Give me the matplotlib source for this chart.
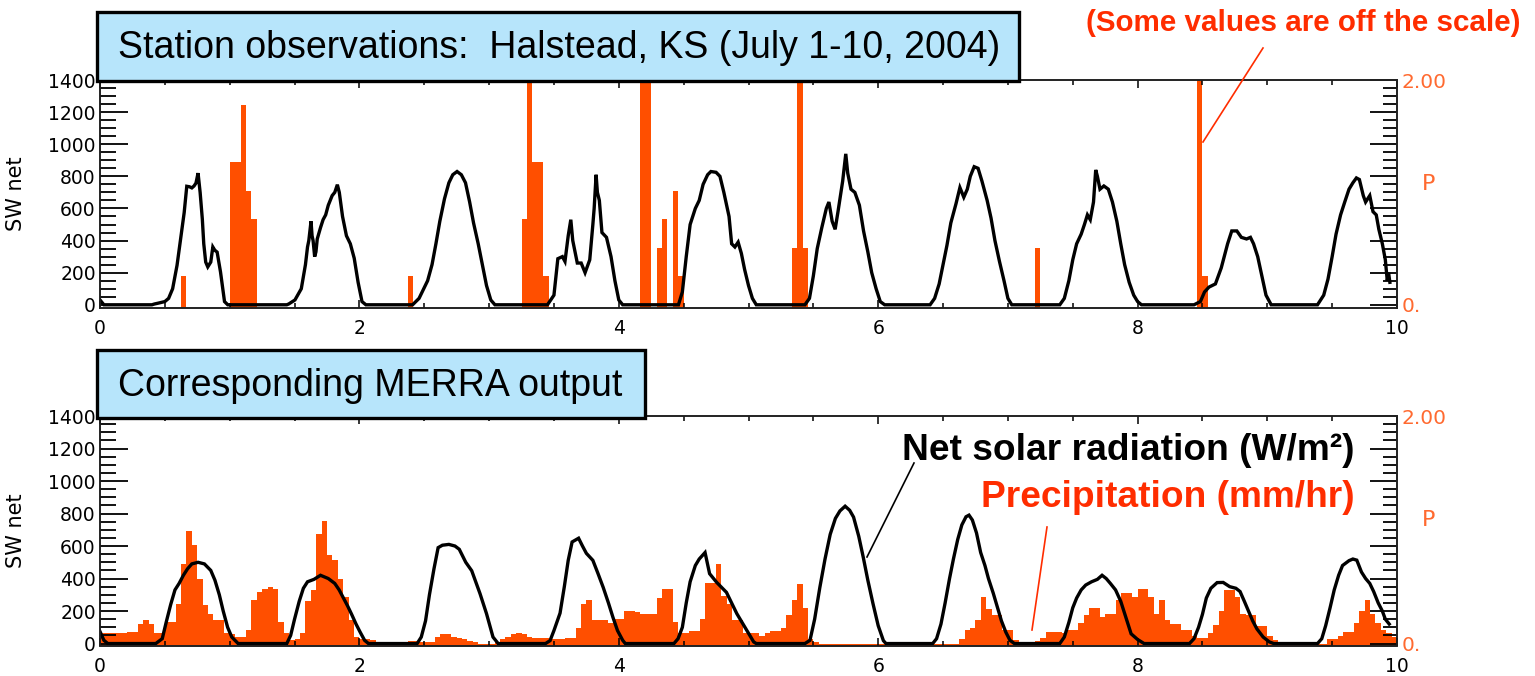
import numpy as np
import matplotlib
matplotlib.use("Agg")
import matplotlib.pyplot as plt
from matplotlib.patches import Rectangle
from matplotlib.lines import Line2D
from matplotlib.ticker import MultipleLocator, FixedLocator, FuncFormatter

# ---------------------------------------------------------------------------
# Station observations, Halstead KS, July 1-10 2004 (time in days)
# ---------------------------------------------------------------------------
station_t = [
    0.00, 0.03,
    0.40, 0.42, 0.448, 0.50, 0.529, 0.56, 0.594, 0.627, 0.649, 0.669, 0.69, 0.708, 0.725, 0.74,
    0.756, 0.772, 0.789, 0.80, 0.815, 0.831, 0.854, 0.87, 0.885, 0.903, 0.929, 0.96, 0.985,
    1.44, 1.455, 1.503, 1.552, 1.584, 1.60, 1.61, 1.627, 1.635, 1.643, 1.655, 1.665, 1.675,
    1.70, 1.72, 1.74, 1.76, 1.79, 1.81, 1.83, 1.845, 1.87, 1.90, 1.93, 1.96, 1.99, 2.02, 2.05,
    2.41, 2.46, 2.526, 2.56, 2.59, 2.62, 2.656, 2.69, 2.72, 2.753, 2.786, 2.818, 2.85, 2.88,
    2.916, 2.95, 2.98, 3.013, 3.045,
    3.45, 3.50, 3.53, 3.565, 3.585, 3.61, 3.63, 3.645, 3.68, 3.71, 3.74, 3.776, 3.80, 3.81,
    3.825, 3.835, 3.85, 3.87, 3.905, 3.94, 3.97, 4.00, 4.03,
    4.46, 4.49, 4.52, 4.55, 4.59, 4.62, 4.65, 4.685, 4.71, 4.75, 4.78, 4.81, 4.85, 4.87,
    4.895, 4.92, 4.945, 4.97, 5.00, 5.03, 5.06,
    5.435, 5.47, 5.50, 5.53, 5.565, 5.60, 5.62, 5.645, 5.668, 5.69, 5.726, 5.75, 5.765, 5.79,
    5.82, 5.855, 5.887, 5.92, 5.95, 5.984, 6.016, 6.05,
    6.40, 6.435, 6.47, 6.50, 6.53, 6.56, 6.60, 6.63, 6.66, 6.687, 6.71, 6.74, 6.77, 6.80,
    6.84, 6.87, 6.90, 6.935, 6.97, 7.00, 7.03,
    7.40, 7.435, 7.47, 7.50, 7.53, 7.565, 7.59, 7.613, 7.635, 7.66, 7.677, 7.69, 7.71, 7.74,
    7.774, 7.806, 7.84, 7.87, 7.90, 7.935, 7.97, 8.00, 8.03,
    8.435, 8.484, 8.516, 8.55, 8.60, 8.645, 8.694, 8.726, 8.765, 8.80, 8.84, 8.87, 8.894,
    8.926, 8.958, 8.99, 9.03,
    9.387, 9.435, 9.468, 9.50, 9.53, 9.565, 9.597, 9.63, 9.66, 9.687, 9.71, 9.74, 9.758,
    9.79, 9.815, 9.84, 9.86, 9.887, 9.91, 9.925, 9.935, 9.945,
]
station_sw = [
    30, 0,
    0, 5, 10, 20, 40, 100, 246, 440, 574, 738, 735, 728, 740, 758,
    820, 700, 533, 380, 266, 236, 266, 360, 340, 328, 205, 20, 0,
    0, 5, 30, 100, 250, 360, 400, 520, 430, 400, 300, 330, 410,
    480, 530, 560, 620, 680, 700, 748, 700, 550, 430, 380, 290, 140, 20, 0,
    0, 40, 150, 250, 380, 520, 660, 760, 810, 830, 810, 760, 640, 510,
    380, 240, 120, 30, 0,
    0, 60, 287, 300, 270, 430, 530, 400, 260, 260, 200, 280, 500, 600,
    810, 700, 650, 450, 420, 300, 150, 30, 0,
    0, 80, 300, 500, 600, 650, 750, 810, 830, 825, 800, 700, 550, 380,
    360, 390, 320, 220, 120, 40, 0,
    0, 40, 180, 350, 480, 600, 640, 520, 470, 580, 770, 940, 820, 720,
    700, 620, 460, 330, 200, 100, 20, 0,
    0, 40, 130, 250, 370, 510, 630, 730, 670, 720, 800, 860, 850, 770,
    650, 540, 400, 270, 150, 40, 0,
    0, 40, 150, 280, 380, 440, 500, 560, 530, 640, 840, 800, 720, 740,
    720, 640, 520, 380, 250, 140, 60, 20, 0,
    0, 20, 80, 110, 130, 230, 380, 460, 460, 420, 410, 420, 380,
    300, 180, 60, 0,
    0, 60, 160, 300, 440, 560, 640, 720, 760, 790, 780, 680, 640,
    680, 580, 560, 470, 380, 280, 150, 200, 140,
]

# Rain-gauge totals (mm/hr) for the hours with rain; hour index from July 1 00:00
station_rain_hour = [15, 24, 25, 26, 27, 28, 57, 78, 79, 80, 81, 82,
                     100, 101, 103, 104, 106, 107, 128, 129, 130, 173, 203, 204]
station_rain_mm = [0.254, 1.27, 1.27, 1.778, 1.016, 0.762, 0.254, 0.762, 2.54, 1.27, 1.27, 0.254,
                   2.54, 2.54, 0.508, 0.762, 1.016, 0.254, 0.508, 2.54, 0.508, 0.508, 2.54, 0.254]

# ---------------------------------------------------------------------------
# Corresponding MERRA output
# ---------------------------------------------------------------------------
merra_t = [
    0.00, 0.03, 0.06,
    0.43, 0.48, 0.51, 0.545, 0.578, 0.61, 0.643, 0.675, 0.708, 0.756, 0.805, 0.854, 0.886,
    0.92, 0.95, 0.984, 1.016, 1.065,
    1.44, 1.47, 1.50, 1.536, 1.568, 1.60, 1.65, 1.70, 1.73, 1.76, 1.81, 1.844, 1.877, 1.91,
    1.94, 1.974, 2.006, 2.04, 2.07,
    2.445, 2.477, 2.51, 2.54, 2.575, 2.607, 2.64, 2.69, 2.737, 2.77, 2.82, 2.866, 2.93,
    2.98, 3.03, 3.07,
    3.435, 3.47, 3.50, 3.547, 3.58, 3.61, 3.64, 3.69, 3.72, 3.75, 3.80, 3.84, 3.88, 3.92,
    3.955, 3.99, 4.03, 4.05,
    4.425, 4.457, 4.49, 4.52, 4.55, 4.59, 4.62, 4.665, 4.70, 4.755, 4.83, 4.91, 4.985, 5.04, 5.06,
    5.435, 5.474, 5.51, 5.55, 5.59, 5.63, 5.67, 5.705, 5.745, 5.78, 5.81, 5.85, 5.885, 5.92,
    5.96, 6.00, 6.04, 6.06,
    6.42, 6.45, 6.484, 6.516, 6.55, 6.58, 6.613, 6.645, 6.677, 6.70, 6.726, 6.758, 6.79,
    6.823, 6.85, 6.887, 6.92, 6.95, 6.984, 7.016, 7.05,
    7.40, 7.435, 7.47, 7.50, 7.53, 7.565, 7.60, 7.645, 7.69, 7.726, 7.758, 7.79, 7.83,
    7.87, 7.91, 7.95, 8.00, 8.05,
    8.40, 8.435, 8.47, 8.50, 8.53, 8.565, 8.613, 8.66, 8.71, 8.758, 8.79, 8.823, 8.855,
    8.887, 8.92, 8.968, 9.016, 9.05,
    9.387, 9.42, 9.45, 9.484, 9.516, 9.55, 9.58, 9.63, 9.66, 9.69, 9.726, 9.758, 9.79,
    9.82, 9.855, 9.887, 9.91, 9.94,
]
merra_sw = [
    74, 20, 0,
    0, 30, 130, 240, 330, 370, 420, 460, 490, 500, 490, 450, 390,
    300, 200, 100, 40, 0,
    0, 50, 150, 260, 340, 380, 395, 420, 410, 400, 370, 330, 280, 230,
    180, 120, 70, 20, 0,
    0, 40, 140, 300, 460, 590, 605, 610, 600, 580, 500, 448, 307,
    184, 40, 0,
    0, 18, 80, 187, 350, 512, 625, 648, 600, 555, 512, 430, 345, 250,
    161, 80, 20, 0,
    0, 30, 100, 250, 380, 480, 520, 560, 430, 376, 315, 184, 83, 10, 0,
    0, 20, 150, 345, 520, 672, 770, 816, 845, 820, 778, 660, 530, 390,
    245, 110, 18, 0,
    0, 30, 120, 250, 400, 520, 640, 730, 780, 790, 760, 680, 560,
    480, 400, 310, 220, 140, 70, 20, 0,
    0, 40, 130, 220, 280, 330, 360, 380, 395, 420, 400, 370, 330,
    260, 160, 60, 25, 0,
    0, 30, 100, 180, 280, 340, 375, 376, 350, 340, 320, 260, 200,
    140, 90, 40, 10, 0,
    0, 30, 110, 220, 330, 420, 480, 510, 520, 513, 440, 400, 370,
    320, 250, 200, 150, 120,
]

# Hourly MERRA precipitation (mm/hr), one row per half day
merra_rain_mm = [
    0.09, 0.09, 0.09, 0.09, 0.09, 0.10, 0.10, 0.17, 0.21, 0.17, 0.09, 0.09,
    0.19, 0.19, 0.35, 0.70, 0.99, 0.87, 0.57, 0.34, 0.26, 0.21, 0.21, 0.09,
    0.08, 0.06, 0.06, 0.12, 0.38, 0.45, 0.48, 0.50, 0.48, 0.19, 0.09, 0.03,
    0.04, 0.09, 0.37, 0.47, 0.96, 1.08, 0.78, 0.73, 0.57, 0.41, 0.21, 0.06,
    0.04, 0.04, 0.03, 0.00, 0.00, 0.00, 0.00, 0.00, 0.00, 0.02, 0.02, 0.01,
    0.01, 0.01, 0.06, 0.08, 0.08, 0.06, 0.05, 0.04, 0.02, 0.01, 0.00, 0.00,
    0.00, 0.01, 0.04, 0.06, 0.08, 0.09, 0.08, 0.06, 0.05, 0.05, 0.05, 0.04,
    0.04, 0.04, 0.05, 0.05, 0.14, 0.35, 0.38, 0.21, 0.21, 0.21, 0.18, 0.22,
    0.22, 0.29, 0.29, 0.28, 0.26, 0.26, 0.26, 0.40, 0.48, 0.48, 0.19, 0.09,
    0.09, 0.11, 0.11, 0.22, 0.53, 0.53, 0.70, 0.42, 0.35, 0.21, 0.21, 0.09,
    0.09, 0.09, 0.07, 0.09, 0.11, 0.11, 0.14, 0.25, 0.38, 0.52, 0.31, 0.04,
    0.01, 0.00, 0.00, 0.00, 0.00, 0.00, 0.00, 0.00, 0.00, 0.00, 0.00, 0.00,
    0.00, 0.00, 0.00, 0.00, 0.00, 0.00, 0.00, 0.00, 0.00, 0.00, 0.00, 0.00,
    0.00, 0.00, 0.00, 0.04, 0.12, 0.14, 0.21, 0.41, 0.30, 0.25, 0.25, 0.12,
    0.12, 0.03, 0.01, 0.01, 0.01, 0.02, 0.05, 0.10, 0.10, 0.10, 0.09, 0.12,
    0.12, 0.18, 0.25, 0.31, 0.31, 0.23, 0.26, 0.26, 0.38, 0.44, 0.44, 0.41,
    0.48, 0.48, 0.41, 0.26, 0.38, 0.21, 0.17, 0.17, 0.12, 0.12, 0.07, 0.05,
    0.05, 0.09, 0.16, 0.29, 0.47, 0.47, 0.41, 0.26, 0.25, 0.25, 0.15, 0.15,
    0.07, 0.03, 0.00, 0.00, 0.00, 0.00, 0.00, 0.00, 0.00, 0.00, 0.00, 0.04,
    0.04, 0.07, 0.10, 0.10, 0.18, 0.29, 0.38, 0.26, 0.18, 0.12, 0.09, 0.06,
]
merra_rain_hour = list(range(len(merra_rain_mm)))

# ---------------------------------------------------------------------------
W, H, DPI = 1535, 676, 100
SW_TOP = 1400.0
P_TOP = 2.0
MM_PER_W = P_TOP / SW_TOP          # right scale spans the same height as the left one
ORANGE = "#FF4F00"
ORANGE_LABEL = "#FF6A30"
RED = "#FF2D00"
BOX_BLUE = "#B7E5FB"

plt.rcParams["font.family"] = ["DejaVu Sans"]

fig = plt.figure(figsize=(W / DPI, H / DPI), dpi=DPI)


def px_axes(left, top, right, bottom):
    return [left / W, 1 - bottom / H, (right - left) / W, (bottom - top) / H]


def fx(x):
    return x / W


def fy(y):
    return 1 - y / H


def draw_panel(rect, t, sw, rain_hour, rain_mm, sw_lo):
    ax = fig.add_axes(rect)
    axp = ax.twinx()
    ax.set_zorder(axp.get_zorder() + 1)
    ax.patch.set_visible(False)

    p_lo = sw_lo * MM_PER_W
    hours = np.asarray(rain_hour, dtype=float) / 24.0
    mm = np.asarray(rain_mm, dtype=float)
    axp.bar(hours, mm - p_lo, bottom=p_lo, width=1 / 24.0, align="edge",
            color=ORANGE, linewidth=0)
    ax.plot(t, sw, color="black", lw=2.4, solid_joinstyle="miter")

    ax.set_xlim(0, 10)
    ax.set_ylim(sw_lo, SW_TOP)
    axp.set_ylim(p_lo, P_TOP)

    ax.xaxis.set_major_locator(MultipleLocator(2))
    ax.xaxis.set_minor_locator(MultipleLocator(0.5))
    ax.yaxis.set_major_locator(MultipleLocator(200))
    ax.yaxis.set_minor_locator(MultipleLocator(50))

    ax.tick_params(axis="x", which="both", direction="in", top=True, bottom=True,
                   labelsize=13.5, pad=8, width=1.1)
    ax.tick_params(axis="x", which="major", length=6)
    ax.tick_params(axis="x", which="minor", length=3.5)
    ax.tick_params(axis="y", which="both", direction="in", left=True, right=False,
                   labelsize=13.5, pad=3, width=1.3)
    ax.tick_params(axis="y", which="major", length=20)
    ax.tick_params(axis="y", which="minor", length=11.5)

    axp.yaxis.set_major_locator(FixedLocator(np.arange(0, SW_TOP + 1, 200) * MM_PER_W))
    axp.yaxis.set_minor_locator(FixedLocator(np.arange(0, SW_TOP + 1, 50) * MM_PER_W))
    axp.yaxis.set_major_formatter(FuncFormatter(
        lambda v, pos: "0." if abs(v) < 1e-9 else ("2.00" if abs(v - P_TOP) < 1e-9 else "")))
    axp.tick_params(axis="y", which="both", direction="in", right=True, left=False,
                    labelsize=14.5, pad=3, width=1.3, labelcolor=ORANGE_LABEL)
    axp.tick_params(axis="y", which="major", length=19.5)
    axp.tick_params(axis="y", which="minor", length=10)

    for a in (ax, axp):
        for s in a.spines.values():
            s.set_linewidth(1.2)
            s.set_color("#222222")

    ax.set_ylabel("SW net", fontsize=15)
    ax.yaxis.set_label_coords(-0.057, 0.5)
    axp.set_ylabel("P", fontsize=16, color=ORANGE_LABEL, rotation=0, va="center", ha="center")
    axp.yaxis.set_label_coords(1.024, 0.545)
    return ax, axp


draw_panel(px_axes(100, 80, 1397, 308), station_t, station_sw,
           station_rain_hour, station_rain_mm, -20)
draw_panel(px_axes(100, 416, 1397, 645.5), merra_t, merra_sw,
           merra_rain_hour, merra_rain_mm, -12)


# Panel title boxes
def title_box(left, top, right, bottom, text, baseline):
    fig.add_artist(Rectangle((fx(left), fy(bottom)), fx(right) - fx(left), fy(top) - fy(bottom),
                             transform=fig.transFigure, facecolor=BOX_BLUE, edgecolor="black",
                             linewidth=2.4, zorder=5))
    fig.text(fx(118), fy(baseline), text, fontsize=27, family="Liberation Sans",
             ha="left", va="baseline", zorder=6)


title_box(97, 12, 1019, 81, "Station observations:  Halstead, KS (July 1-10, 2004)", 58)
title_box(97, 350, 645, 418, "Corresponding MERRA output", 396)

# Annotations and their leader lines
fig.text(fx(1520), fy(31), "(Some values are off the scale)", fontsize=21.3, fontweight="bold",
         family="Liberation Sans", color=RED, ha="right", va="baseline", zorder=6)
fig.text(fx(1355), fy(460), "Net solar radiation (W/m\u00b2)", fontsize=26.7, fontweight="bold",
         family="Liberation Sans", color="black", ha="right", va="baseline", zorder=6)
fig.text(fx(1355), fy(507), "Precipitation (mm/hr)", fontsize=26.7, fontweight="bold",
         family="Liberation Sans", color=RED, ha="right", va="baseline", zorder=6)

for (x0, y0, x1, y1, c) in [(1263, 48, 1203, 142, RED),
                            (914, 463, 867, 557, "black"),
                            (1047, 527, 1032, 630, RED)]:
    fig.add_artist(Line2D([fx(x0), fx(x1)], [fy(y0), fy(y1)], transform=fig.transFigure,
                          color=c, linewidth=1.2, zorder=6))

fig.savefig("out.png", dpi=DPI)
